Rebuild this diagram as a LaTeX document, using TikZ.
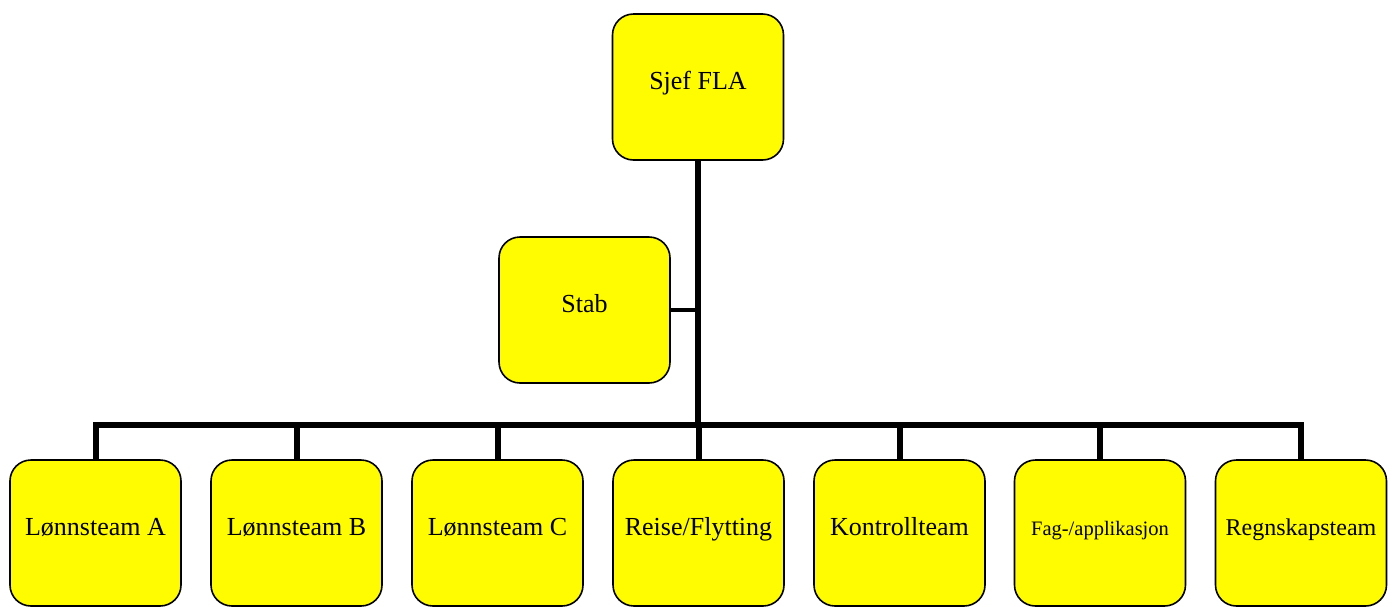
\documentclass[tikz,border=0pt]{standalone}
\usepackage{fontspec}
\setmainfont{Liberation Serif}
\definecolor{boxyellow}{RGB}{255,251,0}
\begin{document}
\begin{tikzpicture}[x=1pt,y=-1pt,
  orgbox/.style={draw=black, line width=1.6pt, fill=boxyellow, rounded corners=21pt,
    minimum width=171pt, minimum height=146pt, inner sep=0pt, align=center,
    font=\fontsize{26}{30}\selectfont, text height=18pt, text depth=12.8pt},
  smallfont/.style={font=\fontsize{20.5}{24}\selectfont},
  midfont/.style={font=\fontsize{24}{28}\selectfont},
  conn/.style={draw=black, line width=6pt, line join=miter},
  stabconn/.style={draw=black, line width=4.5pt}]
\useasboundingbox (0,0) rectangle (1394,606);
\node[orgbox] (top) at (698,87) {Sjef FLA};
\node[orgbox] (stab) at (584.5,310) {Stab};
\node[orgbox] (a) at (95.5,533) {Lønnsteam A};
\node[orgbox] (b) at (296.5,533) {Lønnsteam B};
\node[orgbox] (c) at (497.5,533) {Lønnsteam C};
\node[orgbox] (d) at (698.5,533) {Reise/Flytting};
\node[orgbox] (e) at (899.5,533) {Kontrollteam};
\node[orgbox,smallfont] (f) at (1100,533) {Fag-/applikasjon};
\node[orgbox,midfont] (g) at (1301,533) {Regnskapsteam};
\coordinate (bus) at (698,425);
\draw[conn] (top.south) -- (bus);
\foreach \n in {a,b,c,d,e,f,g} {\draw[conn] (bus) -| ([yshift=-1pt]\n.north);}
\draw[stabconn] (stab.east) -- (stab.east -| top.south);
\end{tikzpicture}
\end{document}
